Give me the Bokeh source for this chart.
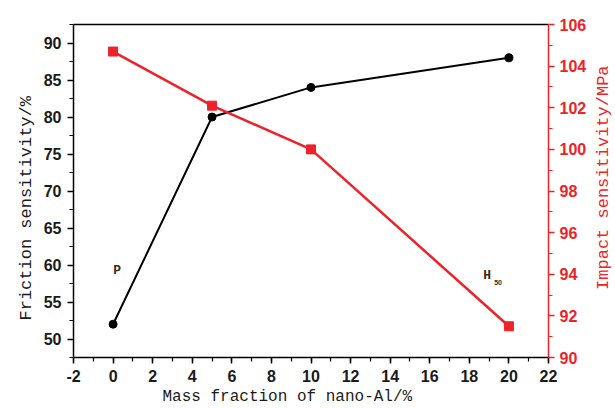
import math
from bokeh.plotting import figure
from bokeh.layouts import row
from bokeh.models import (Range1d, LinearAxis, SingleIntervalTicker, FixedTicker, ColumnDataSource,
                          PrintfTickFormatter, Title)
from bokeh.core.properties import value
from bokeh.embed import file_html
from bokeh.resources import INLINE

# ---- data ----
mass_fraction = [0, 5, 10, 20]
friction = [52, 80, 84, 88]
impact = [104.7, 102.1, 100.0, 91.5]

ann_text = ["P", "H"]
ann_x = [0.2, 18.9]
ann_y = [59.2, 58.6]
sub_text = ["50"]
sub_x = [19.45]
sub_y = [57.6]

x_title = "Mass fraction of nano-Al/%"
left_title = "Friction sensitivity/%"
right_title = "Impact sensitivity/MPa"

RED = "#ee2228"
INK = "#1a1a1a"

p = figure(frame_width=475, frame_height=333, output_backend="svg", toolbar_location=None,
           x_range=Range1d(-2, 22), y_range=Range1d(47.5, 92.5),
           min_border_left=73, min_border_right=44, min_border_top=24, min_border_bottom=50,
           x_axis_location=None, y_axis_location=None)
p.extra_y_ranges = {"impact": Range1d(90, 106)}
p.grid.visible = False
p.outline_line_color = None
p.background_fill_color = "white"
p.border_fill_color = "white"

def style(ax, color, labelcolor):
    ax.axis_line_color = color
    ax.axis_line_width = 1.5
    ax.major_tick_line_color = color
    ax.minor_tick_line_color = color
    ax.major_tick_line_width = 1.5
    ax.minor_tick_line_width = 1.2
    ax.major_tick_out = 6
    ax.major_tick_in = 0
    ax.minor_tick_out = 4
    ax.minor_tick_in = 0
    ax.major_label_text_font = "Liberation Sans"
    ax.major_label_text_font_style = "bold"
    ax.major_label_text_font_size = "16px"
    ax.major_label_text_color = labelcolor
    ax.formatter = PrintfTickFormatter(format="%d")

xaxis = LinearAxis(ticker=SingleIntervalTicker(interval=2, num_minor_ticks=2))
style(xaxis, "black", INK)
xaxis.major_label_standoff = 6
p.add_layout(xaxis, "below")

laxis = LinearAxis(ticker=SingleIntervalTicker(interval=5, num_minor_ticks=2))
style(laxis, "black", INK)
laxis.major_label_standoff = 6
p.add_layout(laxis, "left")

raxis = LinearAxis(y_range_name="impact", ticker=SingleIntervalTicker(interval=2, num_minor_ticks=2))
style(raxis, RED, RED)
raxis.major_label_standoff = 5
p.add_layout(raxis, "right")

taxis = LinearAxis(ticker=FixedTicker(ticks=[]))
taxis.axis_line_color = "black"
taxis.axis_line_width = 1.5
taxis.major_label_text_font_size = "0px"
taxis.major_label_standoff = 0
taxis.major_tick_out = 0
taxis.minor_tick_out = 0
p.add_layout(taxis, "above")

# axis titles
p.add_layout(Title(text=x_title, text_font="Liberation Mono", text_font_size="16px",
                   text_font_style="normal", text_color=INK, align="left",
                   offset=89, standoff=2), "below")
p.add_layout(Title(text=left_title, text_font="Liberation Mono", text_font_size="17px",
                   text_font_style="normal", text_color=INK, align="left",
                   offset=37, standoff=9), "left")

src = ColumnDataSource(dict(x=mass_fraction, f=friction, i=impact))
p.line("x", "f", source=src, line_color="black", line_width=2)
p.scatter("x", "f", source=src, marker="circle", size=8, fill_color="black", line_color="black")
p.line("x", "i", source=src, y_range_name="impact", line_color=RED, line_width=2.5)
p.scatter("x", "i", source=src, y_range_name="impact", marker="square", size=9,
          fill_color=RED, line_color=RED)

p.text(x=ann_x, y=ann_y, text=ann_text, text_font=value("Liberation Mono"),
       text_font_style="bold", text_font_size="13px", text_color="#3a2a1a",
       text_align="center", text_baseline="middle")
p.text(x=sub_x, y=sub_y, text=sub_text, text_font=value("Liberation Sans"),
       text_font_style="bold", text_font_size="7px", text_color="#3a2a1a",
       text_align="center", text_baseline="middle")

# right-hand title strip (reads bottom-to-top, centred like the reference)
p2 = figure(width=22, height=407, output_backend="svg", toolbar_location=None,
            x_range=Range1d(0, 1), y_range=Range1d(0, 1),
            min_border_left=0, min_border_right=0, min_border_top=0, min_border_bottom=0,
            x_axis_location=None, y_axis_location=None)
p2.grid.visible = False
p2.outline_line_color = None
p2.background_fill_color = "white"
p2.border_fill_color = "white"
p2.text(x=[0.5], y=[0.54], text=[right_title], angle=math.pi / 2,
        text_font=value("Liberation Mono"), text_font_size="17px", text_color=RED,
        text_align="center", text_baseline="middle")

layout = row(p, p2, spacing=0)
open("out.html", "w").write(file_html(layout, INLINE))
